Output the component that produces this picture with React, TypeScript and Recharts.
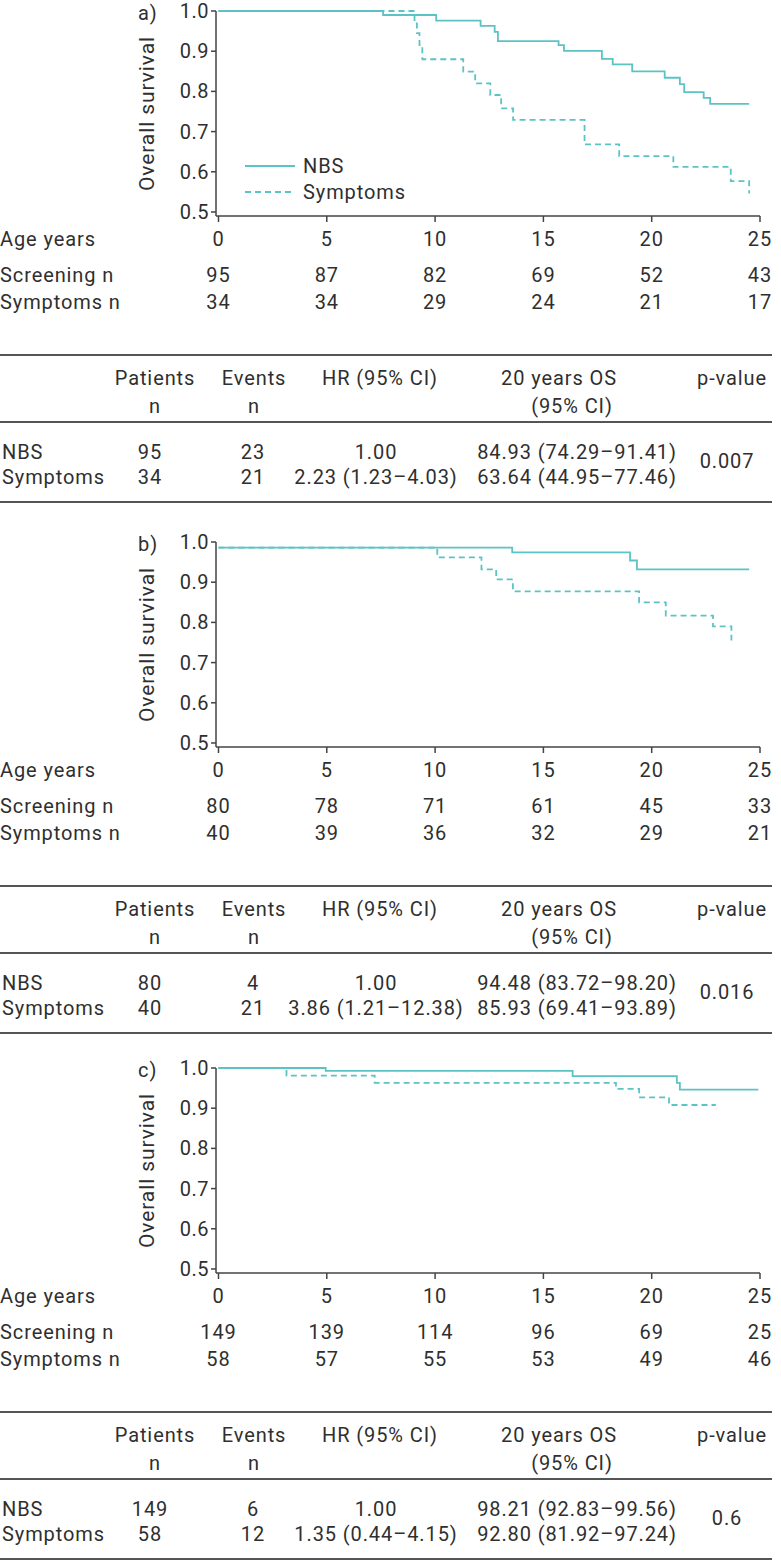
import React from "react";
import { LineChart, Line, XAxis, YAxis, Legend } from "recharts";

const TEAL = "#5cc3c5";
const INK = "#2f2f2f";
const FONT = "Roboto, 'Noto Sans', sans-serif";

const ageTicks = [0, 5, 10, 15, 20, 25];
const survivalTicks = [0.5, 0.6, 0.7, 0.8, 0.9, 1.0];
const riskRowLabels = ["Age years", "Screening n", "Symptoms n"];

// a) overall
const aNbsTime = [0, 7.6, 10.05, 12.1, 12.75, 12.9, 15.7, 15.95, 17.7, 18.2, 19.1, 20.6, 21.3, 21.5, 22.4, 22.7, 24.5];
const aNbsSurv = [1.0, 0.99, 0.976, 0.963, 0.948, 0.925, 0.915, 0.901, 0.881, 0.867, 0.85, 0.834, 0.818, 0.798, 0.784, 0.769, 0.769];
const aSymTime = [0, 9.05, 9.16, 9.28, 9.41, 11.3, 11.85, 12.55, 13.05, 13.6, 16.9, 18.5, 21.0, 23.65, 24.5];
const aSymSurv = [1.0, 0.973, 0.945, 0.911, 0.88, 0.849, 0.82, 0.791, 0.758, 0.729, 0.668, 0.639, 0.612, 0.577, 0.546];
const aScreeningN = [95, 87, 82, 69, 52, 43];
const aSymptomsN = [34, 34, 29, 24, 21, 17];
const aNbsRow = ["95", "23", "1.00", "84.93 (74.29–91.41)"];
const aSymRow = ["34", "21", "2.23 (1.23–4.03)", "63.64 (44.95–77.46)"];
const aPValue = "0.007";

// b)
const bNbsTime = [0, 13.56, 19.0, 19.32, 24.5];
const bNbsSurv = [0.986, 0.974, 0.954, 0.932, 0.932];
const bSymTime = [0, 10.1, 12.14, 12.82, 13.59, 19.42, 20.65, 22.83, 23.68];
const bSymSurv = [0.986, 0.962, 0.932, 0.907, 0.877, 0.85, 0.817, 0.79, 0.755];
const bScreeningN = [80, 78, 71, 61, 45, 33];
const bSymptomsN = [40, 39, 36, 32, 29, 21];
const bNbsRow = ["80", "4", "1.00", "94.48 (83.72–98.20)"];
const bSymRow = ["40", "21", "3.86 (1.21–12.38)", "85.93 (69.41–93.89)"];
const bPValue = "0.016";

// c)
const cNbsTime = [0, 4.95, 16.35, 21.16, 21.3, 24.92];
const cNbsSurv = [1.0, 0.993, 0.98, 0.963, 0.946, 0.946];
const cSymTime = [0, 3.14, 7.21, 18.35, 19.42, 20.8, 22.96];
const cSymSurv = [1.0, 0.981, 0.963, 0.948, 0.927, 0.908, 0.908];
const cScreeningN = [149, 139, 114, 96, 69, 25];
const cSymptomsN = [58, 57, 55, 53, 49, 46];
const cNbsRow = ["149", "6", "1.00", "98.21 (92.83–99.56)"];
const cSymRow = ["58", "12", "1.35 (0.44–4.15)", "92.80 (81.92–97.24)"];
const cPValue = "0.6";

const toSteps = (t: number[], s: number[]) => t.map((v, i) => ({ t: v, s: s[i] }));

const txt = { fill: INK, fontSize: 20, fontFamily: FONT, letterSpacing: 0.9 };

const RiskTick = (props: any) => {
  const { x, y, payload, screening, symptoms } = props;
  const i = ageTicks.indexOf(payload.value);
  return (
    <g>
      <text x={x} y={y + 17} textAnchor="middle" dominantBaseline="central" {...txt}>{payload.value}</text>
      <text x={x} y={y + 53} textAnchor="middle" dominantBaseline="central" {...txt}>{screening[i]}</text>
      <text x={x} y={y + 80} textAnchor="middle" dominantBaseline="central" {...txt}>{symptoms[i]}</text>
      {i === 0 && (
        <g>
          <text x={0} y={y + 17} dominantBaseline="central" {...txt}>{riskRowLabels[0]}</text>
          <text x={0} y={y + 53} dominantBaseline="central" {...txt}>{riskRowLabels[1]}</text>
          <text x={0} y={y + 80} dominantBaseline="central" {...txt}>{riskRowLabels[2]}</text>
        </g>
      )}
    </g>
  );
};

const LegendBox = ({ payload }: any) => (
  <div style={{ fontFamily: FONT, fontSize: 20, color: INK, letterSpacing: 0.9 }}>
    {(payload || []).map((e: any, i: number) => (
      <div key={i} style={{ display: "flex", alignItems: "center", height: 26 }}>
        <svg width={50} height={4} style={{ marginRight: 8 }}>
          <line x1={0} y1={2} x2={50} y2={2} stroke={TEAL} strokeWidth={1.8} strokeDasharray={i === 1 ? "6 4" : undefined} />
        </svg>
        <span>{e.value}</span>
      </div>
    ))}
  </div>
);

const SummaryTable = ({ nbs, sym, p }: { nbs: string[]; sym: string[]; p: string }) => {
  const cols = [150, 253, 376, 577];
  return (
    <svg width={781} height={180} style={{ position: "absolute", left: 0, top: 330 }}>
      <line x1={0} y1={25} x2={772} y2={25} stroke="#555" strokeWidth={2} />
      <line x1={0} y1={92} x2={772} y2={92} stroke="#555" strokeWidth={2} />
      <line x1={0} y1={172} x2={772} y2={172} stroke="#555" strokeWidth={2} />
      <text x={155} y={48} textAnchor="middle" dominantBaseline="central" {...txt}>Patients</text>
      <text x={155} y={76} textAnchor="middle" dominantBaseline="central" {...txt}>n</text>
      <text x={254} y={48} textAnchor="middle" dominantBaseline="central" {...txt}>Events</text>
      <text x={254} y={76} textAnchor="middle" dominantBaseline="central" {...txt}>n</text>
      <text x={380} y={48} textAnchor="middle" dominantBaseline="central" {...txt}>HR (95% CI)</text>
      <text x={559} y={48} textAnchor="middle" dominantBaseline="central" {...txt}>20 years OS</text>
      <text x={572} y={76} textAnchor="middle" dominantBaseline="central" {...txt}>(95% CI)</text>
      <text x={732} y={48} textAnchor="middle" dominantBaseline="central" {...txt}>p-value</text>
      <text x={2} y={122} dominantBaseline="central" {...txt}>NBS</text>
      <text x={2} y={147} dominantBaseline="central" {...txt}>Symptoms</text>
      {nbs.map((v, i) => (
        <text key={"n" + i} x={cols[i]} y={122} textAnchor="middle" dominantBaseline="central" {...txt}>{v}</text>
      ))}
      {sym.map((v, i) => (
        <text key={"s" + i} x={cols[i]} y={147} textAnchor="middle" dominantBaseline="central" {...txt}>{v}</text>
      ))}
      <text x={727} y={131} textAnchor="middle" dominantBaseline="central" {...txt}>{p}</text>
    </svg>
  );
};

const KMPanel = ({ letter, top, nbs, sym, screening, symptoms, nbsRow, symRow, p, showLegend }: any) => (
  <div style={{ position: "absolute", left: 0, top, width: 781, height: 510 }}>
    <LineChart width={781} height={320} margin={{ top: 11, right: 21, left: 0, bottom: 0 }}>
      <XAxis
        type="number"
        dataKey="t"
        domain={[-0.115, 25]}
        ticks={ageTicks}
        interval={0}
        height={104}
        tickSize={6}
        tickMargin={0}
        axisLine={{ stroke: "#444", strokeWidth: 1.5 }}
        tickLine={{ stroke: "#444", strokeWidth: 1.5 }}
        tick={(props: any) => <RiskTick {...props} screening={screening} symptoms={symptoms} />}
      />
      <YAxis
        type="number"
        domain={[0.49, 1.0]}
        ticks={survivalTicks}
        interval={0}
        width={216}
        tickSize={5}
        tickMargin={2}
        axisLine={{ stroke: "#444", strokeWidth: 1.5 }}
        tickLine={{ stroke: "#444", strokeWidth: 1.5 }}
        tick={{ fill: INK, fontSize: 20, fontFamily: FONT, letterSpacing: 0.5 }}
        tickFormatter={(v: number) => v.toFixed(1)}
        label={{
          content: (lp: any) => {
            const vb = lp.viewBox || { x: 0, y: 11, width: 216, height: 205 };
            return (
              <g>
                <text x={vb.x + 138} y={vb.y + 2} dominantBaseline="central" {...txt}>{letter})</text>
                <text
                  transform={`translate(${vb.x + 147}, ${vb.y + vb.height / 2}) rotate(-90)`}
                  textAnchor="middle"
                  dominantBaseline="central"
                  {...txt}
                  fontSize={21}
                >
                  Overall survival
                </text>
              </g>
            );
          },
        }}
      />
      <Line data={nbs} dataKey="s" name="NBS" type="stepAfter" stroke={TEAL} strokeWidth={1.8} dot={false} isAnimationActive={false} />
      <Line data={sym} dataKey="s" name="Symptoms" type="stepAfter" stroke={TEAL} strokeWidth={1.8} strokeDasharray="6 4" dot={false} isAnimationActive={false} />
      {showLegend && (
        <Legend
          layout="vertical"
          align="center"
          verticalAlign="middle"
          wrapperStyle={{ left: 245, top: 153, width: 220 }}
          content={(lp: any) => <LegendBox payload={lp.payload} />}
        />
      )}
    </LineChart>
    <SummaryTable nbs={nbsRow} sym={symRow} p={p} />
  </div>
);

const App = () => (
  <div style={{ position: "absolute", left: 0, top: 0, width: 781, height: 1566, background: "#fff", fontFamily: FONT }}>
    <KMPanel letter="a" top={0} nbs={toSteps(aNbsTime, aNbsSurv)} sym={toSteps(aSymTime, aSymSurv)}
      screening={aScreeningN} symptoms={aSymptomsN} nbsRow={aNbsRow} symRow={aSymRow} p={aPValue} showLegend />
    <KMPanel letter="b" top={531} nbs={toSteps(bNbsTime, bNbsSurv)} sym={toSteps(bSymTime, bSymSurv)}
      screening={bScreeningN} symptoms={bSymptomsN} nbsRow={bNbsRow} symRow={bSymRow} p={bPValue} />
    <KMPanel letter="c" top={1057} nbs={toSteps(cNbsTime, cNbsSurv)} sym={toSteps(cSymTime, cSymSurv)}
      screening={cScreeningN} symptoms={cSymptomsN} nbsRow={cNbsRow} symRow={cSymRow} p={cPValue} />
  </div>
);

export default App;
